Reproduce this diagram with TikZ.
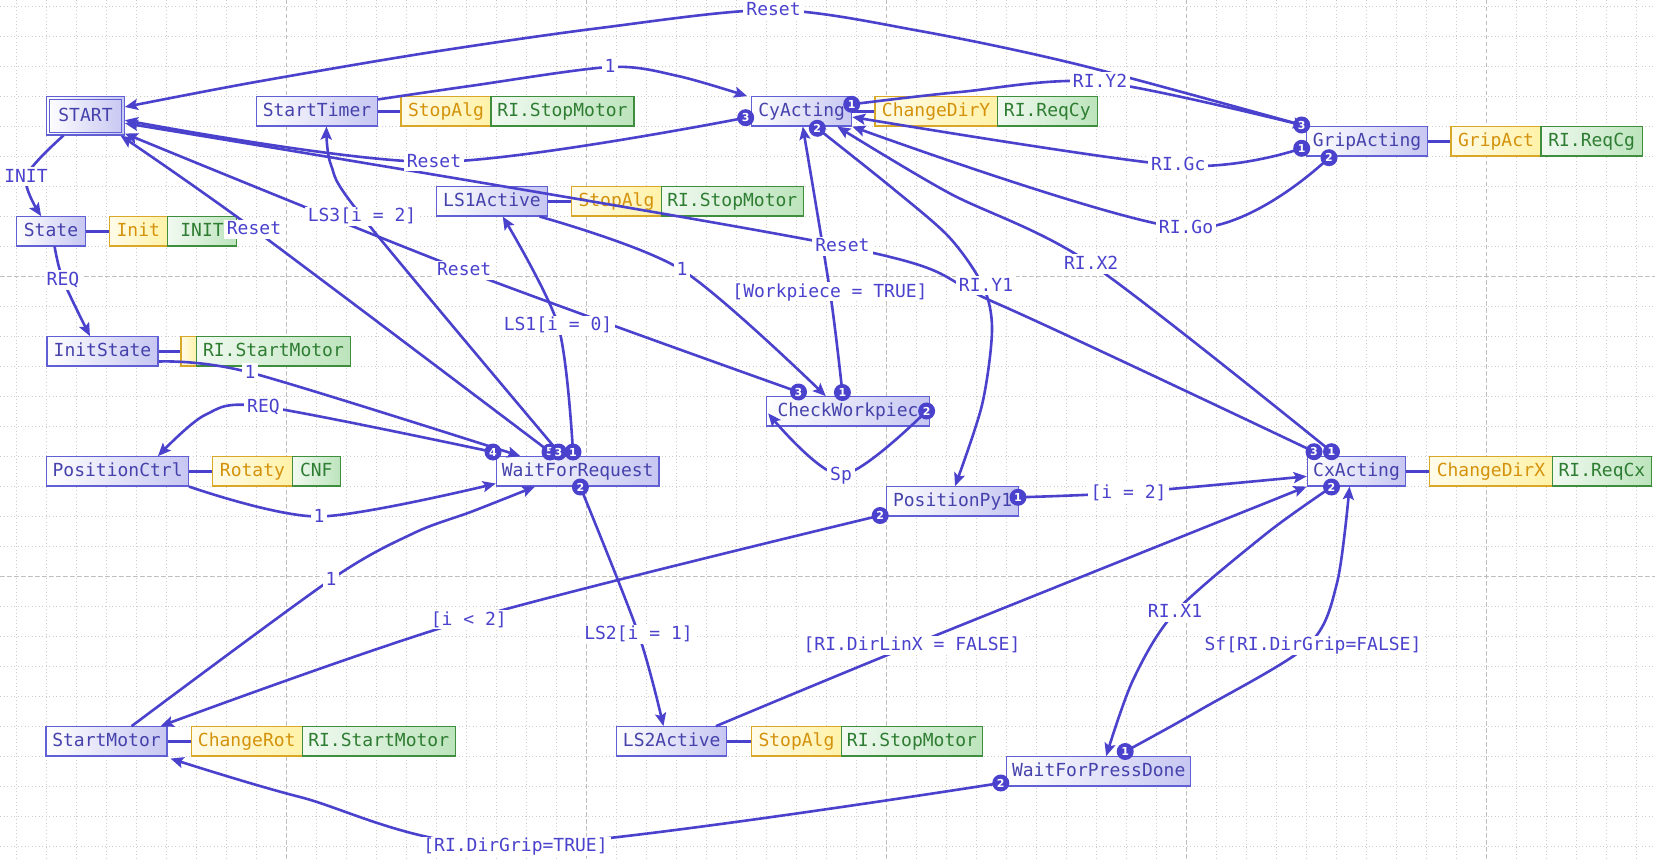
\documentclass[tikz,border=0pt]{standalone}
\usepackage{fontspec}
\newfontfamily\monof{DejaVu Sans Mono}
\newfontfamily\badgef{DejaVu Sans}
\usetikzlibrary{arrows.meta}
\definecolor{edgec}{RGB}{74,66,204}
\definecolor{stborder}{RGB}{96,96,212}
\definecolor{sttext}{RGB}{70,66,172}
\definecolor{stfill}{RGB}{198,198,242}
\definecolor{ylborder}{RGB}{218,168,40}
\definecolor{yltext}{RGB}{212,146,12}
\definecolor{ylfill}{RGB}{255,242,168}
\definecolor{grborder}{RGB}{62,142,62}
\definecolor{grtext}{RGB}{46,125,50}
\definecolor{grfill}{RGB}{188,228,188}
\definecolor{gridc}{RGB}{205,205,205}
\definecolor{gridM}{RGB}{190,190,190}
\begin{document}
\begin{tikzpicture}[x=1pt,y=-1pt,
  stbox/.style={draw=stborder, line width=1.1pt, left color=white, right color=stfill, text=sttext, font=\monof\fontsize{18}{20}\selectfont, inner sep=0pt, minimum height=29.3pt, text height=12pt, text depth=1pt},
  ylbox/.style={draw=ylborder, line width=1.1pt, left color=ylfill!25, right color=ylfill, text=yltext, font=\monof\fontsize{18}{20}\selectfont, inner sep=0pt, minimum height=29.3pt, text height=12pt, text depth=1pt},
  grbox/.style={draw=grborder, line width=1.1pt, left color=grfill!20, right color=grfill, text=grtext, font=\monof\fontsize{18}{20}\selectfont, inner sep=0pt, minimum height=29.3pt, text height=12pt, text depth=1pt},
  actlink/.style={draw=edgec, line width=3pt},
  trans/.style={draw=edgec, line width=2.6pt, line join=round, -{Stealth[length=13pt,width=11pt,inset=2.5pt]}},
  lbl/.style={fill=white, text=edgec, font=\monof\fontsize{18}{20}\selectfont, inner xsep=3pt, inner ysep=3pt, text height=12pt, text depth=1pt},
  badge/.style={circle, fill=edgec, text=white, font=\badgef\bfseries\fontsize{11}{11}\selectfont, inner sep=0pt, minimum size=17pt},
  gminor/.style={draw=gridc, line width=0.8pt, dash pattern=on 1pt off 2.5pt},
  gmajor/.style={draw=gridM, line width=0.9pt, dash pattern=on 4pt off 3pt}
]
\fill[white] (0,0) rectangle (1655,861);
\useasboundingbox (0,0) rectangle (1655,861);
% grid
\foreach \i in {0,...,54} \draw[gminor] ({16.7+30*\i},0) -- ({16.7+30*\i},861);
\foreach \j in {0,...,28} \draw[gminor] (0,{6.7+30*\j}) -- (1655,{6.7+30*\j});
\foreach \x in {286.7,586.7,886.7,1186.7,1486.7} \draw[gmajor] (\x,0) -- (\x,861);
\foreach \y in {276.7,576.7} \draw[gmajor] (0,\y) -- (1655,\y);

% states and actions
\node[stbox, minimum width=77.6pt, minimum height=38.3pt] (START) at (85.5,115.85) {START};
\draw[draw=stborder, line width=1.1pt] ([shift={(3.3pt,-3.3pt)}]START.north west) rectangle ([shift={(-3.3pt,3.3pt)}]START.south east);

\node[stbox, minimum width=120.6pt] (StartTimer) at (317,111.35) {StartTimer};
\node[ylbox, minimum width=90pt] (aST1) at (446,111.35) {StopAlg};
\node[grbox, minimum width=143pt] (aST2) at (562.5,111.35) {RI.StopMotor};

\node[stbox, minimum width=100pt] (CyActing) at (801.7,111.35) {CyActing};
\node[ylbox, minimum width=122.3pt] (aCy1) at (936.15,111.35) {ChangeDirY};
\node[grbox, minimum width=100pt] (aCy2) at (1047.3,111.35) {RI.ReqCy};

\node[stbox, minimum width=120.6pt] (GripActing) at (1367,141.35) {GripActing};
\node[ylbox, minimum width=90pt] (aGr1) at (1496,141.35) {GripAct};
\node[grbox, minimum width=101.3pt] (aGr2) at (1591.65,141.35) {RI.ReqCg};

\node[stbox, minimum width=68.6pt] (State) at (51,231.35) {State};
\node[ylbox, minimum width=58pt] (aSt1) at (138.3,231.35) {Init};
\node[grbox, minimum width=69.4pt] (aSt2) at (202,231.35) {INIT};

\node[stbox, minimum width=110.6pt] (LS1Active) at (492,201.35) {LS1Active};
\node[ylbox, minimum width=89.9pt] (aL1a) at (616.45,201.35) {StopAlg};
\node[grbox, minimum width=141.8pt] (aL1b) at (732.3,201.35) {RI.StopMotor};

\node[stbox, minimum width=111pt] (InitState) at (102.5,351.35) {InitState};
\node[ylbox, minimum width=15.5pt] (aIS1) at (188.75,351.35) {};
\node[grbox, minimum width=153.9pt] (aIS2) at (273.45,351.35) {RI.StartMotor};

\node[stbox, minimum width=141.5pt] (PositionCtrl) at (117.65,471.35) {PositionCtrl};
\node[ylbox, minimum width=79.9pt] (aPC1) at (252.45,471.35) {Rotaty};
\node[grbox, minimum width=47.8pt] (aPC2) at (316.3,471.35) {CNF};

\node[stbox, minimum width=162.6pt] (WaitForRequest) at (577.7,471.35) {WaitForRequest};
\node[stbox, minimum width=162.5pt] (CheckWorkpiece) at (848,411.35) {CheckWorkpiec};
\node[stbox, minimum width=132pt] (PositionPy1) at (952.6,501.35) {PositionPy1};

\node[stbox, minimum width=98.5pt] (CxActing) at (1356.5,471.35) {CxActing};
\node[ylbox, minimum width=122.5pt] (aCx1) at (1490.95,471.35) {ChangeDirX};
\node[grbox, minimum width=99.5pt] (aCx2) at (1601.95,471.35) {RI.ReqCx};

\node[stbox, minimum width=121pt] (StartMotor) at (106.5,741.35) {StartMotor};
\node[ylbox, minimum width=110.9pt] (aSM1) at (246.75,741.35) {ChangeRot};
\node[grbox, minimum width=153pt] (aSM2) at (378.7,741.35) {RI.StartMotor};

\node[stbox, minimum width=110.1pt] (LS2Active) at (671.75,741.35) {LS2Active};
\node[ylbox, minimum width=90.3pt] (aL2a) at (796.45,741.35) {StopAlg};
\node[grbox, minimum width=140.8pt] (aL2b) at (912,741.35) {RI.StopMotor};

\node[stbox, minimum width=183.6pt] (WaitForPressDone) at (1098.7,771.35) {WaitForPressDone};

% links state - action
\draw[actlink] (StartTimer.east) -- (aST1.west);
\draw[actlink] (CyActing.east) -- (aCy1.west);
\draw[actlink] (GripActing.east) -- (aGr1.west);
\draw[actlink] (State.east) -- (aSt1.west);
\draw[actlink] (LS1Active.east) -- (aL1a.west);
\draw[actlink] (InitState.east) -- (aIS1.west);
\draw[actlink] (PositionCtrl.east) -- (aPC1.west);
\draw[actlink] (CxActing.east) -- (aCx1.west);
\draw[actlink] (StartMotor.east) -- (aSM1.west);
\draw[actlink] (LS2Active.east) -- (aL2a.west);

% badge positions
\coordinate (bCy1) at (851.7,104.3);
\coordinate (bCy2) at (817.3,128.3);
\coordinate (bCy3) at (745.7,117.7);
\coordinate (bGr3) at (1301.7,125);
\coordinate (bGr1) at (1301.7,148.3);
\coordinate (bGr2) at (1329,157.7);
\coordinate (bWFR4) at (493,452);
\coordinate (bWFR5) at (550,452);
\coordinate (bWFR3) at (558.5,452);
\coordinate (bWFR1) at (573,452);
\coordinate (bWFR2) at (580.4,487);
\coordinate (bCW3) at (798.5,392);
\coordinate (bCW1) at (842.4,392.5);
\coordinate (bCW2) at (926.6,411);
\coordinate (bPy1) at (1018,497.3);
\coordinate (bPy2) at (880.2,515.5);
\coordinate (bCx3) at (1314,451.7);
\coordinate (bCx1) at (1331.5,451.7);
\coordinate (bCx2) at (1331.5,487);
\coordinate (bPW1) at (1125.2,751.5);
\coordinate (bPW2) at (1000.8,783);

% label positions
\coordinate (cINIT) at (26,177);
\coordinate (cREQa) at (63,280);
\coordinate (cOneA) at (250,372.5);
\coordinate (cREQb) at (263.5,406.5);
\coordinate (cOneB) at (319,516.5);
\coordinate (cLS1) at (558,325);
\coordinate (cLS2) at (638.5,634);
\coordinate (cLS3) at (362,216.5);
\coordinate (cResetA) at (254,229.3);
\coordinate (cOneC) at (610,67);
\coordinate (cOneD) at (682,270);
\coordinate (cWork) at (830,291.5);
\coordinate (cSp) at (841,475);
\coordinate (cResetB) at (464.2,270.5);
\coordinate (cY2) at (1100,82);
\coordinate (cY1) at (986,285.5);
\coordinate (cResetC) at (434,162);
\coordinate (cGc) at (1178.3,165.5);
\coordinate (cGo) at (1186,228.3);
\coordinate (cResetD) at (773.5,10);
\coordinate (cIeq) at (1128.5,492.5);
\coordinate (cIlt) at (468.8,619.5);
\coordinate (cOneE) at (331,579.5);
\coordinate (cDirX) at (912,645);
\coordinate (cX2) at (1091.2,264);
\coordinate (cX1) at (1175,612.3);
\coordinate (cResetE) at (842.4,246.3);
\coordinate (cSf) at (1313,645);
\coordinate (cDirT) at (515.5,846);

% transitions
\draw[trans] plot[smooth] coordinates {([xshift=17.3pt]START.south west) (cINIT) ([xshift=25pt]State.north west)};
\draw[trans] plot[smooth] coordinates {([xshift=3.6pt]State.south) (cREQa) ([xshift=43.5pt]InitState.north west)};
\draw[trans] plot[smooth] coordinates {([yshift=5pt]InitState.south east) (cOneA) ([xshift=24.6pt]WaitForRequest.north west)};
\draw[trans] plot[smooth] coordinates {(bWFR4) (cREQb) (205,415) ([xshift=111.6pt]PositionCtrl.north west)};
\draw[trans] plot[smooth] coordinates {(PositionCtrl.south east) (cOneB) ([yshift=3pt]WaitForRequest.south west)};
\draw[trans] plot[smooth] coordinates {(bWFR1) (cLS1) ([xshift=66.6pt]LS1Active.south west)};
\draw[trans] plot[smooth] coordinates {(bWFR2) (cLS2) ([xshift=47.3pt]LS2Active.north west)};
\draw[trans] plot[smooth] coordinates {(bWFR3) (cLS3) (331,165) ([xshift=70.3pt]StartTimer.south west)};
\draw[trans] plot[smooth] coordinates {(bWFR5) (cResetA) ([xshift=-4.3pt]START.south east)};
\draw[trans] plot[smooth] coordinates {([yshift=-3.3pt]StartTimer.north east) (470,86) (cOneC) (678,76) ([xshift=-4pt]CyActing.north west)};
\draw[trans] plot[smooth] coordinates {([xshift=-8.3pt]LS1Active.south east) (cOneD) ([xshift=59.6pt]CheckWorkpiece.north west)};
\draw[trans] plot[smooth] coordinates {(bCW1) (cWork) ([xshift=51.6pt]CyActing.south west)};
\draw[trans] plot[smooth] coordinates {(bCW2) (cSp) ([xshift=2pt,yshift=-2pt]CheckWorkpiece.west)};
\draw[trans] plot[smooth] coordinates {(bCW3) (cResetB) ([yshift=2pt]START.south east)};
\draw[trans] plot[smooth] coordinates {(bCy1) (960,92) (cY2) (GripActing.north west)};
\draw[trans] plot[smooth] coordinates {(bCy2) (891,187) (949,237) (983,286) (992,330) (982,405) ([xshift=69pt]PositionPy1.north west)};
\draw[trans] plot[smooth] coordinates {(bCy3) (cResetC) ([yshift=-4.35pt]START.east)};
\draw[trans] plot[smooth] coordinates {(bGr1) (cGc) ([yshift=-5.65pt]CyActing.east)};
\draw[trans] plot[smooth] coordinates {(bGr2) (cGo) (CyActing.south east)};
\draw[trans] plot[smooth] coordinates {(bGr3) (1080,65) (920,31) (cResetD) (600,28) (426,53) (250,83) ([yshift=8.85pt]START.east)};
\draw[trans] plot[smooth] coordinates {(bPy1) (cIeq) ([yshift=-5pt]CxActing.west)};
\draw[trans] plot[smooth] coordinates {(bPy2) (cIlt) ([xshift=-7pt]StartMotor.north east)};
\draw[trans] plot[smooth] coordinates {([xshift=25.1pt]StartMotor.north) (cOneE) (414,533) (472,511.5) ([xshift=39.3pt]WaitForRequest.south west)};
\draw[trans] plot[smooth] coordinates {([xshift=-11.4pt]LS2Active.north east) (cDirX) (CxActing.south west)};
\draw[trans] plot[smooth] coordinates {(bCx1) (cX2) (949,193) ([xshift=-15pt]CyActing.south east)};
\draw[trans] plot[smooth] coordinates {(bCx2) (1266.7,533.3) (cX1) (1133,680) ([xshift=99.8pt]WaitForPressDone.north west)};
\draw[trans] plot[smooth] coordinates {(bCx3) (997,303.5) (cResetE) ([yshift=-7.35pt]START.east)};
\draw[trans] plot[smooth] coordinates {(bPW1) (1200,710) (1308,645) (1337,583) ([xshift=42.8pt]CxActing.south west)};
\draw[trans] plot[smooth] coordinates {(bPW2) (cDirT) (300,797) ([xshift=3pt,yshift=-2pt]StartMotor.south east)};

% labels
\node[lbl] (lINIT) at (cINIT) {INIT};
\node[lbl] (lREQa) at (cREQa) {REQ};
\node[lbl] (lOneA) at (cOneA) {1};
\node[lbl] (lREQb) at (cREQb) {REQ};
\node[lbl] (lOneB) at (cOneB) {1};
\node[lbl] (lLS1) at (cLS1) {LS1[i = 0]};
\node[lbl] (lLS2) at (cLS2) {LS2[i = 1]};
\node[lbl] (lLS3) at (cLS3) {LS3[i = 2]};
\node[lbl] (lResetA) at (cResetA) {Reset};
\node[lbl] (lOneC) at (cOneC) {1};
\node[lbl] (lOneD) at (cOneD) {1};
\node[lbl] (lWork) at (cWork) {[Workpiece = TRUE]};
\node[lbl] (lSp) at (cSp) {Sp};
\node[lbl] (lResetB) at (cResetB) {Reset};
\node[lbl] (lY2) at (cY2) {RI.Y2};
\node[lbl] (lY1) at (cY1) {RI.Y1};
\node[lbl] (lResetC) at (cResetC) {Reset};
\node[lbl] (lGc) at (cGc) {RI.Gc};
\node[lbl] (lGo) at (cGo) {RI.Go};
\node[lbl] (lResetD) at (cResetD) {Reset};
\node[lbl] (lIeq) at (cIeq) {[i = 2]};
\node[lbl] (lIlt) at (cIlt) {[i < 2]};
\node[lbl] (lOneE) at (cOneE) {1};
\node[lbl] (lDirX) at (cDirX) {[RI.DirLinX = FALSE]};
\node[lbl] (lX2) at (cX2) {RI.X2};
\node[lbl] (lX1) at (cX1) {RI.X1};
\node[lbl] (lResetE) at (cResetE) {Reset};
\node[lbl] (lSf) at (cSf) {Sf[RI.DirGrip=FALSE]};
\node[lbl] (lDirT) at (cDirT) {[RI.DirGrip=TRUE]};

% badges
\node[badge] (nCy1) at (bCy1) {1};
\node[badge] (nCy2) at (bCy2) {2};
\node[badge] (nCy3) at (bCy3) {3};
\node[badge] (nGr3) at (bGr3) {3};
\node[badge] (nGr1) at (bGr1) {1};
\node[badge] (nGr2) at (bGr2) {2};
\node[badge] (nWFR4) at (bWFR4) {4};
\node[badge] (nWFR5) at (bWFR5) {5};
\node[badge] (nWFR3) at (bWFR3) {3};
\node[badge] (nWFR1) at (bWFR1) {1};
\node[badge] (nWFR2) at (bWFR2) {2};
\node[badge] (nCW3) at (bCW3) {3};
\node[badge] (nCW1) at (bCW1) {1};
\node[badge] (nCW2) at (bCW2) {2};
\node[badge] (nPy1) at (bPy1) {1};
\node[badge] (nPy2) at (bPy2) {2};
\node[badge] (nCx3) at (bCx3) {3};
\node[badge] (nCx1) at (bCx1) {1};
\node[badge] (nCx2) at (bCx2) {2};
\node[badge] (nPW1) at (bPW1) {1};
\node[badge] (nPW2) at (bPW2) {2};
\end{tikzpicture}
\end{document}
